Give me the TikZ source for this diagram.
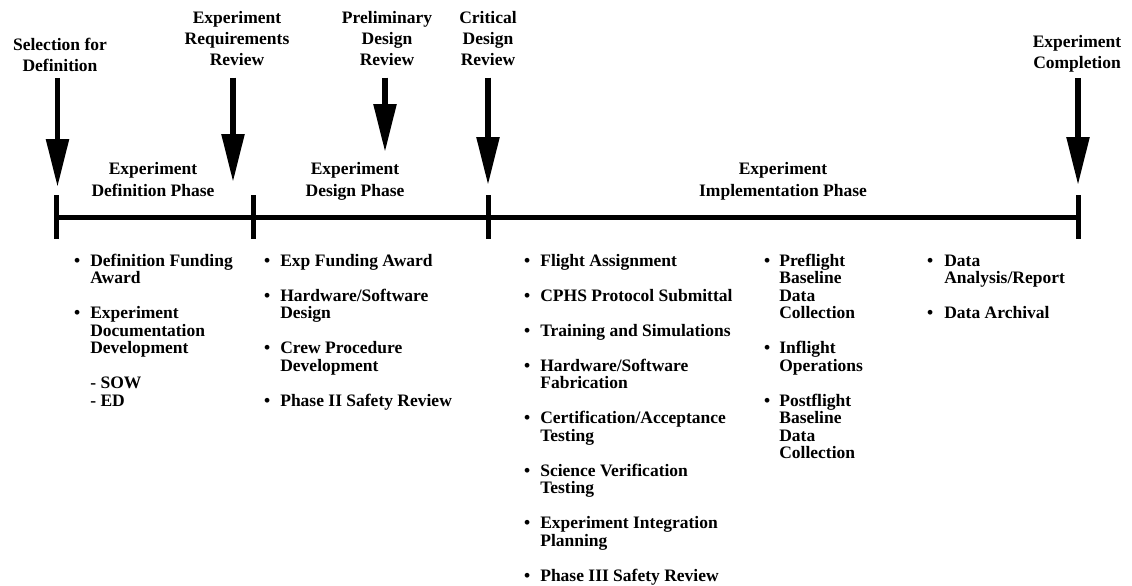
\documentclass[tikz,border=0pt]{standalone}
\usepackage{fontspec}
\setmainfont{Liberation Serif}
\usetikzlibrary{arrows.meta}
\newcommand{\picsizex}{1132}
\newcommand{\picsizey}{586}
\newcommand{\tly}{217.5}
\newcommand{\ticktop}{195}
\newcommand{\tickbot}{239}
\newcommand{\listy}{266}
\newcommand{\bulletgap}{17.5pt}

\begin{document}
\begin{tikzpicture}[x=1pt,y=-1pt,
    every node/.style={inner sep=0pt},
    toplabel/.style={align=center,anchor=north,
      font=\bfseries\fontsize{17.5}{21}\selectfont},
    phaselabel/.style={align=center,anchor=north,
      font=\bfseries\fontsize{17.5}{22}\selectfont},
    tasklist/.style={anchor=base west,
      font=\bfseries\fontsize{17.5}{17.5}\selectfont},
    milestone/.style={line width=5.5pt,shorten <=#1,
      -{Triangle[length=48pt,width=22pt]}},
    timeline/.style={line width=5pt}]
    \path[use as bounding box,fill=white] (0,0) rectangle (\picsizex,\picsizey);

    % milestones
    \begin{scope}
      \node[toplabel] (sel) at (60,38) {Selection for\\Definition};
      \node[toplabel] (err) at (237,11) {Experiment\\Requirements\\Review};
      \node[toplabel] (pdr) at (387,11) {Preliminary\\Design\\Review};
      \node[toplabel] (cdr) at (488,11) {Critical\\Design\\Review};
      \node[toplabel] (cmp) at (1077,35) {Experiment\\Completion};
      \coordinate (selTip) at (57.5,187);
      \coordinate (errTip) at (233,182);
      \coordinate (pdrTip) at (385,152);
      \coordinate (cdrTip) at (488,185);
      \coordinate (cmpTip) at (1078,185);
      \draw[milestone=6pt] (sel.south -| selTip) -- (selTip);
      \draw[milestone=12pt] (err.south -| errTip) -- (errTip);
      \draw[milestone=12pt] (pdr.south -| pdrTip) -- (pdrTip);
      \draw[milestone=12pt] (cdr.south -| cdrTip) -- (cdrTip);
      \draw[milestone=6pt] (cmp.south -| cmpTip) -- (cmpTip);
    \end{scope}

    % phases
    \begin{scope}
      \node[phaselabel] (defph) at (153,162) {Experiment\\Definition Phase};
      \node[phaselabel] (desph) at (355,162) {Experiment\\Design Phase};
      \node[phaselabel] (impph) at (783,162) {Experiment\\Implementation Phase};
      \draw[timeline] (56,\tly) -- (1078,\tly);
      \foreach \x in {56,253,488,1078}
        \draw[timeline] (\x,\ticktop) -- (\x,\tickbot);
    \end{scope}

    % task lists
    \begin{scope}
      \node[tasklist] (deflist) at (74,\listy) {%
        \begin{tabular}[t]{@{}l@{\hspace{10pt}}l@{}}
          \textbullet & Definition Funding\\
                      & Award\\[\bulletgap]
          \textbullet & Experiment\\
                      & Documentation\\
                      & Development\\[\bulletgap]
                      & - SOW\\
                      & - ED
        \end{tabular}};
      \node[tasklist] (deslist) at (264,\listy) {%
        \begin{tabular}[t]{@{}l@{\hspace{10pt}}l@{}}
          \textbullet & Exp Funding Award\\[\bulletgap]
          \textbullet & Hardware/Software\\
                      & Design\\[\bulletgap]
          \textbullet & Crew Procedure\\
                      & Development\\[\bulletgap]
          \textbullet & Phase II Safety Review
        \end{tabular}};
      \node[tasklist] (implist) at (524,\listy) {%
        \begin{tabular}[t]{@{}l@{\hspace{10pt}}l@{}}
          \textbullet & Flight Assignment\\[\bulletgap]
          \textbullet & CPHS Protocol Submittal\\[\bulletgap]
          \textbullet & Training and Simulations\\[\bulletgap]
          \textbullet & Hardware/Software\\
                      & Fabrication\\[\bulletgap]
          \textbullet & Certification/Acceptance\\
                      & Testing\\[\bulletgap]
          \textbullet & Science Verification\\
                      & Testing\\[\bulletgap]
          \textbullet & Experiment Integration\\
                      & Planning\\[\bulletgap]
          \textbullet & Phase III Safety Review
        \end{tabular}};
      \node[tasklist] (flightlist) at (764,\listy) {%
        \begin{tabular}[t]{@{}l@{\hspace{9pt}}l@{}}
          \textbullet & Preflight\\
                      & Baseline\\
                      & Data\\
                      & Collection\\[\bulletgap]
          \textbullet & Inflight\\
                      & Operations\\[\bulletgap]
          \textbullet & Postflight\\
                      & Baseline\\
                      & Data\\
                      & Collection
        \end{tabular}};
      \node[tasklist] (datalist) at (927,\listy) {%
        \begin{tabular}[t]{@{}l@{\hspace{11pt}}l@{}}
          \textbullet & Data\\
                      & Analysis/Report\\[\bulletgap]
          \textbullet & Data Archival
        \end{tabular}};
    \end{scope}
  \end{tikzpicture}
\end{document}
